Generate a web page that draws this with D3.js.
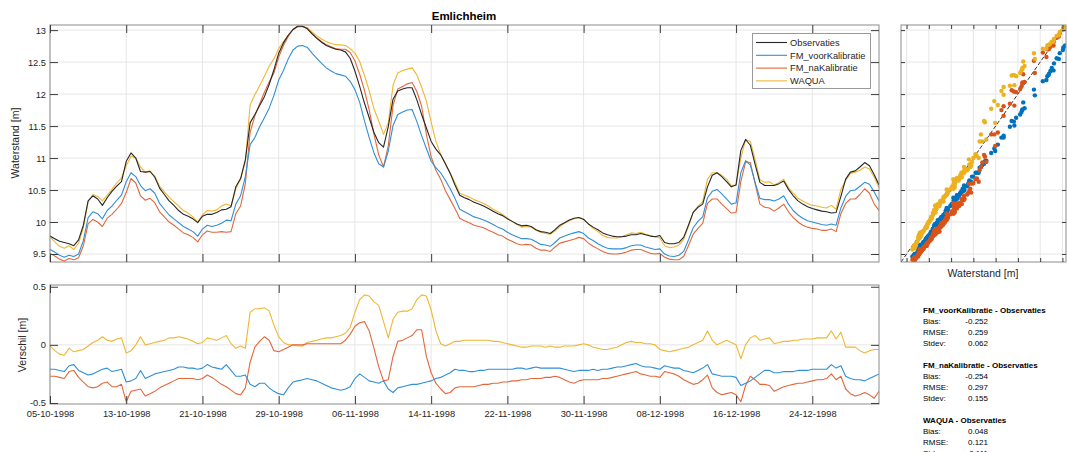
<!DOCTYPE html>
<html>
<head>
<meta charset="utf-8">
<script src="https://cdn.jsdelivr.net/npm/d3@7"></script>
<style>
  body { margin: 0; background: #fff; }
  svg { font-family: "Liberation Sans", Arial, sans-serif; }
</style>
</head>
<body>
<svg id="chart" width="1067" height="452"></svg>
<script>
// samples every 12 hours from the start date
const startDate = "05-10-1998";
const endDate = "31-12-1998";
const stepHours = 12;

const tickLabels = ["05-10-1998", "13-10-1998", "21-10-1998", "29-10-1998", "06-11-1998", "14-11-1998",
  "22-11-1998", "30-11-1998", "08-12-1998", "16-12-1998", "24-12-1998"];
const levelTicks = [9.5, 10, 10.5, 11, 11.5, 12, 12.5, 13];
const diffTicks = [-0.5, 0, 0.5];

const seriesNames = ["Observaties", "FM_voorKalibratie", "FM_naKalibratie", "WAQUA"];

// observed water level [m]
const observaties = [
  9.78, 9.74, 9.70, 9.68, 9.66, 9.63, 9.72, 9.95, 10.33, 10.41,
  10.36, 10.26, 10.38, 10.48, 10.56, 10.63, 10.95, 11.08, 11.00, 10.79,
  10.78, 10.79, 10.70, 10.53, 10.43, 10.33, 10.26, 10.18, 10.12, 10.09,
  10.05, 9.99, 10.09, 10.12, 10.12, 10.15, 10.19, 10.20, 10.24, 10.55,
  10.68, 10.97, 11.55, 11.68, 11.82, 11.96, 12.15, 12.38, 12.64, 12.80,
  12.92, 13.01, 13.06, 13.06, 13.02, 12.94, 12.87, 12.81, 12.76, 12.73,
  12.70, 12.69, 12.66, 12.56, 12.36, 12.12, 11.86, 11.63, 11.40, 11.24,
  11.17, 11.49, 11.92, 12.05, 12.08, 12.10, 12.10, 11.91, 11.68, 11.47,
  11.26, 11.14, 11.05, 10.91, 10.76, 10.58, 10.42, 10.38, 10.35, 10.31,
  10.28, 10.25, 10.21, 10.17, 10.13, 10.10, 10.05, 10.01, 9.97, 9.94,
  9.95, 9.93, 9.88, 9.85, 9.84, 9.82, 9.88, 9.95, 9.99, 10.03,
  10.06, 10.07, 10.04, 9.97, 9.92, 9.88, 9.83, 9.80, 9.78, 9.77,
  9.77, 9.78, 9.80, 9.80, 9.82, 9.80, 9.78, 9.77, 9.79, 9.68,
  9.66, 9.66, 9.68, 9.76, 9.95, 10.15, 10.23, 10.28, 10.55, 10.73,
  10.77, 10.71, 10.63, 10.55, 10.58, 11.12, 11.29, 11.20, 10.90, 10.62,
  10.57, 10.57, 10.57, 10.60, 10.64, 10.51, 10.41, 10.33, 10.28, 10.24,
  10.21, 10.19, 10.17, 10.16, 10.14, 10.15, 10.40, 10.67, 10.78, 10.80,
  10.86, 10.93, 10.88, 10.74, 10.58
];

// model minus observation [m]
const verschilVoor = [
  -0.21, -0.21, -0.22, -0.23, -0.18, -0.17, -0.22, -0.24, -0.26, -0.25,
  -0.23, -0.21, -0.20, -0.23, -0.22, -0.21, -0.32, -0.31, -0.29, -0.22,
  -0.29, -0.27, -0.25, -0.24, -0.23, -0.22, -0.21, -0.19, -0.19, -0.20,
  -0.20, -0.21, -0.20, -0.17, -0.19, -0.20, -0.21, -0.17, -0.22, -0.27,
  -0.27, -0.26, -0.34, -0.36, -0.33, -0.33, -0.37, -0.40, -0.42, -0.43,
  -0.37, -0.32, -0.31, -0.30, -0.29, -0.30, -0.31, -0.33, -0.35, -0.37,
  -0.38, -0.39, -0.38, -0.36, -0.29, -0.25, -0.28, -0.31, -0.32, -0.33,
  -0.31, -0.38, -0.41, -0.37, -0.36, -0.35, -0.34, -0.34, -0.33, -0.32,
  -0.31, -0.29, -0.28, -0.26, -0.24, -0.21, -0.22, -0.22, -0.23, -0.23,
  -0.22, -0.22, -0.21, -0.21, -0.21, -0.21, -0.21, -0.21, -0.20, -0.20,
  -0.21, -0.20, -0.19, -0.20, -0.20, -0.20, -0.20, -0.20, -0.21, -0.22,
  -0.23, -0.22, -0.22, -0.22, -0.21, -0.22, -0.21, -0.21, -0.20, -0.19,
  -0.19, -0.18, -0.17, -0.16, -0.18, -0.19, -0.19, -0.20, -0.21, -0.18,
  -0.19, -0.20, -0.20, -0.22, -0.23, -0.24, -0.22, -0.20, -0.17, -0.25,
  -0.26, -0.27, -0.27, -0.27, -0.28, -0.35, -0.33, -0.31, -0.28, -0.25,
  -0.22, -0.22, -0.24, -0.24, -0.23, -0.23, -0.23, -0.22, -0.22, -0.22,
  -0.21, -0.21, -0.21, -0.21, -0.17, -0.20, -0.18, -0.27, -0.29, -0.30,
  -0.30, -0.31, -0.29, -0.27, -0.25
];

const verschilNa = [
  -0.27, -0.27, -0.28, -0.29, -0.23, -0.22, -0.28, -0.32, -0.36, -0.37,
  -0.36, -0.33, -0.32, -0.36, -0.36, -0.34, -0.49, -0.40, -0.39, -0.38,
  -0.44, -0.42, -0.40, -0.37, -0.35, -0.33, -0.31, -0.29, -0.29, -0.29,
  -0.29, -0.30, -0.29, -0.26, -0.28, -0.31, -0.34, -0.36, -0.39, -0.42,
  -0.43, -0.37, -0.15, -0.02, 0.03, 0.07, 0.04, -0.05, -0.06, -0.04,
  -0.02, 0.00, 0.00, 0.00, 0.01, 0.01, 0.01, 0.01, 0.01, 0.01,
  0.01, 0.01, 0.04, 0.09, 0.16, 0.19, 0.20, 0.12, -0.03, -0.19,
  -0.31, -0.30, -0.10, 0.03, 0.04, 0.06, 0.08, 0.13, 0.13, -0.10,
  -0.24, -0.33, -0.38, -0.42, -0.41, -0.37, -0.36, -0.36, -0.36, -0.36,
  -0.35, -0.34, -0.34, -0.33, -0.33, -0.32, -0.32, -0.31, -0.31, -0.30,
  -0.30, -0.29, -0.29, -0.29, -0.28, -0.28, -0.27, -0.28, -0.30, -0.32,
  -0.33, -0.31, -0.30, -0.30, -0.30, -0.30, -0.29, -0.29, -0.28, -0.27,
  -0.26, -0.25, -0.24, -0.23, -0.25, -0.26, -0.27, -0.27, -0.28, -0.23,
  -0.24, -0.25, -0.27, -0.30, -0.32, -0.34, -0.33, -0.30, -0.26, -0.37,
  -0.41, -0.43, -0.42, -0.41, -0.43, -0.49, -0.35, -0.27, -0.30, -0.34,
  -0.34, -0.35, -0.40, -0.38, -0.36, -0.35, -0.34, -0.33, -0.33, -0.32,
  -0.31, -0.30, -0.30, -0.29, -0.25, -0.30, -0.27, -0.38, -0.42, -0.44,
  -0.43, -0.41, -0.43, -0.46, -0.40
];

const verschilWaqua = [
  -0.01, -0.05, -0.08, -0.09, -0.03, -0.06, -0.05, -0.04, -0.01, 0.02,
  0.04, 0.07, 0.04, 0.03, 0.05, 0.06, -0.07, -0.05, 0.00, 0.07,
  0.00, 0.01, 0.02, 0.03, 0.04, 0.06, 0.06, 0.07, 0.06, 0.05,
  0.03, 0.01, 0.02, 0.06, 0.05, 0.04, 0.06, 0.08, 0.01, -0.03,
  -0.01, -0.03, 0.28, 0.31, 0.31, 0.32, 0.29, 0.17, 0.07, 0.02,
  0.00, 0.00, -0.01, -0.01, 0.02, 0.03, 0.04, 0.05, 0.06, 0.06,
  0.07, 0.08, 0.10, 0.15, 0.28, 0.39, 0.43, 0.42, 0.37, 0.34,
  0.20, 0.06, 0.22, 0.28, 0.29, 0.29, 0.31, 0.39, 0.43, 0.42,
  0.30, 0.12, 0.01, -0.01, 0.01, 0.03, 0.03, 0.04, 0.04, 0.04,
  0.04, 0.04, 0.04, 0.03, 0.03, 0.02, 0.01, 0.00, -0.01, -0.02,
  -0.02, -0.01, -0.01, -0.01, -0.02, -0.01, -0.02, -0.02, -0.01, -0.01,
  -0.01, 0.00, 0.01, 0.00, -0.02, -0.03, -0.04, -0.04, -0.03, -0.02,
  0.00, 0.02, 0.03, 0.02, 0.02, 0.01, 0.01, 0.00, -0.04, -0.05,
  -0.06, -0.05, -0.04, -0.03, -0.02, 0.00, 0.02, 0.04, 0.12, 0.04,
  0.00, 0.02, 0.04, 0.02, 0.00, -0.12, 0.00, 0.06, 0.08, 0.04,
  0.05, 0.06, 0.01, 0.02, 0.03, 0.03, 0.04, 0.04, 0.05, 0.05,
  0.05, 0.06, 0.06, 0.06, 0.12, 0.05, 0.11, -0.02, -0.02, -0.02,
  -0.05, -0.07, -0.05, -0.04, -0.04
];

const statsTitles = ["FM_voorKalibratie - Observaties", "FM_naKalibratie - Observaties", "WAQUA - Observaties"];
const statsBias = ["-0.252", "-0.254", "0.048"];
const statsRmse = ["0.259", "0.297", "0.121"];
const statsStdev = ["0.062", "0.155", "0.111"];

const lineColors = ["#262626", "#2f8fd8", "#e2683c", "#f0b733"];
const dotColors = ["#262626", "#0072bd", "#d95319", "#edb120"];
const gridColor = "#e6e6e6";
const boxColor = "#8c8c8c";
const textColor = "#262626";

const svg = d3.select("#chart");
const parse = d3.timeParse("%d-%m-%Y");
const t0 = parse(startDate);
const times = observaties.map((v, i) => d3.timeHour.offset(t0, i * stepHours));
const tickDates = tickLabels.map(parse);

const diffs = [verschilVoor, verschilNa, verschilWaqua];
const models = diffs.map((arr) => arr.map((d, i) => observaties[i] + d));

const x = d3.scaleTime().domain([t0, parse(endDate)]).range([50, 879]);
const yTop = d3.scaleLinear().domain([9.375, 13.08]).range([262, 25]);
const yBot = d3.scaleLinear().domain([-0.509, 0.515]).range([404, 285]);
const sx = d3.scaleLinear().domain([9.375, 13.08]).range([901, 1066]);
const sy = yTop;

function clip(id, x0, y0, x1, y1) {
  svg.append("clipPath").attr("id", id)
    .append("rect").attr("x", x0).attr("y", y0).attr("width", x1 - x0).attr("height", y1 - y0);
}

function grid(g, xs, ys, x0, y0, x1, y1) {
  g.selectAll(null).data(xs).enter().append("line")
    .attr("x1", (d) => d).attr("x2", (d) => d).attr("y1", y0).attr("y2", y1)
    .attr("stroke", gridColor).attr("stroke-width", 1);
  g.selectAll(null).data(ys).enter().append("line")
    .attr("y1", (d) => d).attr("y2", (d) => d).attr("x1", x0).attr("x2", x1)
    .attr("stroke", gridColor).attr("stroke-width", 1);
}

function frame(g, x0, y0, x1, y1) {
  g.append("rect").attr("x", x0).attr("y", y0).attr("width", x1 - x0).attr("height", y1 - y0)
    .attr("fill", "none").attr("stroke", boxColor).attr("stroke-width", 1);
}

function styleAxis(sel) {
  sel.select(".domain").remove();
  sel.selectAll(".tick line").attr("stroke", "#3c3c3c");
  sel.selectAll(".tick text").attr("fill", textColor).style("font-size", "9.3px")
    .style("font-family", '"Liberation Sans", Arial, sans-serif');
}

function ticksAround(g, xs, ys, x0, y0, x1, y1, len, xFmt, yFmt) {
  g.append("g").attr("transform", `translate(0,${y0})`)
    .call(d3.axisTop(xs.scale).tickValues(xs.values).tickSize(-len).tickFormat(""))
    .call(styleAxis);
  g.append("g").attr("transform", `translate(0,${y1})`)
    .call(d3.axisBottom(xs.scale).tickValues(xs.values).tickSize(-len).tickPadding(6).tickFormat(xFmt || ""))
    .call(styleAxis);
  g.append("g").attr("transform", `translate(${x0},0)`)
    .call(d3.axisLeft(ys.scale).tickValues(ys.values).tickSize(-len).tickPadding(4).tickFormat(yFmt || ""))
    .call(styleAxis);
  g.append("g").attr("transform", `translate(${x1},0)`)
    .call(d3.axisRight(ys.scale).tickValues(ys.values).tickSize(-len).tickFormat(""))
    .call(styleAxis);
}

clip("clipTop", 50, 25, 879, 262);
clip("clipBot", 50, 285, 879, 404);
clip("clipSc", 901, 25, 1066, 262);

// ---------- top panel: water levels ----------
const topPanel = svg.append("g");
grid(topPanel, tickDates.map(x), levelTicks.map(yTop), 50, 25, 879, 262);

const lineTop = d3.line().x((d, i) => x(times[i])).y((d) => yTop(d));
const topSeries = [observaties].concat(models);
const topOrder = [3, 2, 1, 0];
topOrder.forEach((k) => {
  topPanel.append("path").datum(topSeries[k])
    .attr("clip-path", "url(#clipTop)")
    .attr("fill", "none").attr("stroke", lineColors[k]).attr("stroke-width", 1.1)
    .attr("stroke-linejoin", "round").attr("d", lineTop);
});

frame(topPanel, 50, 25, 879, 262);
ticksAround(topPanel, { scale: x, values: tickDates }, { scale: yTop, values: levelTicks },
  50, 25, 879, 262, 8, null, (d) => String(d));

topPanel.append("text").attr("x", 464).attr("y", 20).attr("text-anchor", "middle")
  .attr("font-weight", "bold").attr("font-size", "11.5px").attr("fill", "#000").text("Emlichheim");

topPanel.append("text").attr("transform", "translate(19,143) rotate(-90)").attr("text-anchor", "middle")
  .attr("font-size", "10.5px").attr("fill", textColor).text("Waterstand [m]");

// legend
const leg = topPanel.append("g");
leg.append("rect").attr("x", 752.5).attr("y", 33.5).attr("width", 118).attr("height", 55)
  .attr("fill", "#fff").attr("stroke", "#9a9a9a").attr("stroke-width", 1);
seriesNames.forEach((name, i) => {
  const yy = 42.5 + i * 12.8;
  leg.append("line").attr("x1", 756).attr("x2", 787).attr("y1", yy).attr("y2", yy)
    .attr("stroke", lineColors[i]).attr("stroke-width", 1.1);
  leg.append("text").attr("x", 790).attr("y", yy + 3.3).attr("font-size", "9.3px")
    .attr("fill", textColor).text(name);
});

// ---------- bottom panel: differences ----------
const botPanel = svg.append("g");
grid(botPanel, tickDates.map(x), [yBot(0)], 50, 285, 879, 404);

const lineBot = d3.line().x((d, i) => x(times[i])).y((d) => yBot(d));
[2, 1, 0].forEach((k) => {
  botPanel.append("path").datum(diffs[k])
    .attr("clip-path", "url(#clipBot)")
    .attr("fill", "none").attr("stroke", lineColors[k + 1]).attr("stroke-width", 1.1)
    .attr("stroke-linejoin", "round").attr("d", lineBot);
});

frame(botPanel, 50, 285, 879, 404);
ticksAround(botPanel, { scale: x, values: tickDates }, { scale: yBot, values: diffTicks },
  50, 285, 879, 404, 8, (d, i) => tickLabels[i], (d) => String(d));

botPanel.append("text").attr("transform", "translate(25.5,345) rotate(-90)").attr("text-anchor", "middle")
  .attr("font-size", "10.5px").attr("fill", textColor).text("Verschil [m]");

// ---------- scatter panel ----------
const scPanel = svg.append("g");
grid(scPanel, levelTicks.map(sx), levelTicks.map(sy), 901, 25, 1066, 262);

scPanel.append("line").attr("clip-path", "url(#clipSc)")
  .attr("x1", sx(9.375)).attr("y1", sy(9.375)).attr("x2", sx(13.08)).attr("y2", sy(13.08))
  .attr("stroke", "#000").attr("stroke-width", 0.8).attr("stroke-dasharray", "4,2");

models.forEach((m, k) => {
  scPanel.append("g").attr("clip-path", "url(#clipSc)")
    .selectAll("circle").data(m).enter().append("circle")
    .attr("cx", (d, i) => sx(observaties[i])).attr("cy", (d) => sy(d))
    .attr("r", 2.2).attr("fill", dotColors[k + 1]);
});

frame(scPanel, 901, 25, 1066, 262);
ticksAround(scPanel, { scale: sx, values: levelTicks }, { scale: sy, values: levelTicks },
  901, 25, 1066, 262, 4, null, null);

scPanel.append("text").attr("x", 983).attr("y", 276.5).attr("text-anchor", "middle")
  .attr("font-size", "10.5px").attr("fill", textColor).text("Waterstand [m]");

// ---------- statistics (the last row runs off the bottom, as in the original) ----------
const st = svg.append("g").attr("font-size", "8px").attr("fill", "#000");
statsTitles.forEach((title, i) => {
  const y0 = 313 + i * 55;
  st.append("text").attr("x", 923).attr("y", y0).attr("font-weight", "bold").text(title);
  [["Bias:", statsBias[i]], ["RMSE:", statsRmse[i]], ["Stdev:", statsStdev[i]]].forEach((row, j) => {
    const yy = y0 + 11 + j * 10.8;
    st.append("text").attr("x", 923).attr("y", yy).text(row[0]);
    st.append("text").attr("x", 988).attr("y", yy).attr("text-anchor", "end").text(row[1]);
  });
});
</script>
</body>
</html>
